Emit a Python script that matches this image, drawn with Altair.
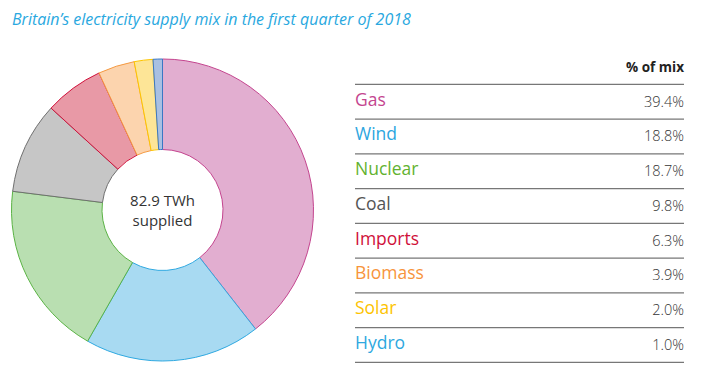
import altair as alt
import pandas as pd

categories = ["Gas", "Wind", "Nuclear", "Coal", "Imports", "Biomass", "Solar", "Hydro"]
shares = [39.4, 18.8, 18.7, 9.8, 6.3, 3.9, 2.0, 1.0]
share_labels = ["39.4%", "18.8%", "18.7%", "9.8%", "6.3%", "3.9%", "2.0%", "1.0%"]
fill_colors = ["#e2aed0", "#a8daf2", "#b9dfb1", "#c6c6c6", "#e899a6", "#fcd4ae", "#fde597", "#a9c0e2"]
stroke_colors = ["#c4458f", "#30a9e1", "#5bb345", "#707070", "#d0103a", "#f59a42", "#fdc500", "#3a77c4"]
text_colors = ["#c4458f", "#2ca6e0", "#62b22f", "#555555", "#d0103a", "#f7943c", "#fdc300", "#2ea8e0"]
title_text = "Britain\u2019s electricity supply mix in the first quarter of 2018"
center_lines = ["82.9 TWh", "supplied"]
header_text = "% of mix"

df = pd.DataFrame({
    "cat": categories,
    "pct": shares,
    "label": share_labels,
    "idx": list(range(len(categories))),
})

FONT = "Open Sans"
CX, CY = 154.5, 202
ROW_TOP, ROW_BOTTOM = 76.3, 354.3
LEFT_X, RIGHT_X = 347, 676

base = alt.Chart(df)

arcs = base.mark_arc(radius=151, radius2=60.5, strokeWidth=1).encode(
    theta=alt.Theta("pct:Q", stack=True),
    order=alt.Order("idx:Q"),
    fill=alt.Fill("cat:N", scale=alt.Scale(domain=categories, range=fill_colors), legend=None),
    stroke=alt.Stroke("cat:N", scale=alt.Scale(domain=categories, range=stroke_colors), legend=None),
    x=alt.value(CX),
    y=alt.value(CY),
)

band_scale = alt.Scale(type="band", range=[ROW_TOP, ROW_BOTTOM], paddingInner=0, paddingOuter=0)

yband = alt.Y("cat:N", sort=categories, scale=band_scale, axis=None)

names = base.mark_text(align="left", baseline="middle", font=FONT, fontSize=17.5, dy=-1).encode(
    x=alt.value(LEFT_X),
    y=yband,
    color=alt.Color("cat:N", scale=alt.Scale(domain=categories, range=text_colors), legend=None),
    text="cat:N",
)

values = base.mark_text(align="right", baseline="middle", font=FONT, fontSize=14.5,
                        fontWeight=300, color="#333333", dy=1).encode(
    x=alt.value(RIGHT_X),
    y=yband,
    text="label:N",
)

rules = base.mark_rule(color="#777777", strokeWidth=1.3).encode(
    x=alt.value(LEFT_X),
    x2=alt.value(RIGHT_X),
    y=alt.Y("cat:N", sort=categories, bandPosition=1, scale=band_scale, axis=None),
)

top_rule = alt.Chart(pd.DataFrame({"k": [0]})).mark_rule(color="#777777", strokeWidth=1.3).encode(
    x=alt.value(LEFT_X), x2=alt.value(RIGHT_X), y=alt.value(ROW_TOP)
)

header = alt.Chart(pd.DataFrame({"t": [header_text]})).mark_text(
    align="right", baseline="middle", font=FONT, fontSize=13.5, fontWeight="bold", color="#222222"
).encode(x=alt.value(RIGHT_X), y=alt.value(60), text="t:N")

title = alt.Chart(pd.DataFrame({"t": [title_text]})).mark_text(
    align="left", baseline="middle", font=FONT, fontSize=16, fontStyle="italic", color="#29a8e0"
).encode(x=alt.value(4), y=alt.value(12), text="t:N")

center_top = alt.Chart(pd.DataFrame({"t": [center_lines[0]]})).mark_text(
    align="center", baseline="middle", font=FONT, fontSize=15, color="#333333"
).encode(x=alt.value(CX), y=alt.value(CY - 9), text="t:N")

center_bottom = alt.Chart(pd.DataFrame({"t": [center_lines[1]]})).mark_text(
    align="center", baseline="middle", font=FONT, fontSize=15, color="#333333"
).encode(x=alt.value(CX), y=alt.value(CY + 11), text="t:N")

chart = alt.layer(arcs, rules, top_rule, names, values, header, title,
                  center_top, center_bottom).resolve_scale(
    fill="independent", stroke="independent", color="independent"
).properties(
    width=690, height=370, padding=0, autosize=alt.AutoSizeParams(type="none")
).configure_view(stroke=None)

chart.save("out.html", embed_options={"renderer": "svg", "actions": False})
